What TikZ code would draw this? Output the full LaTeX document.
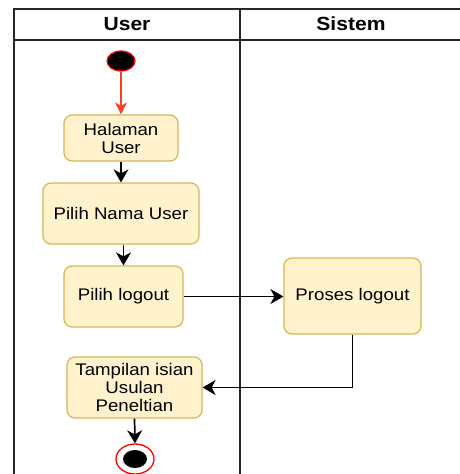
\documentclass[tikz,border=0pt]{standalone}
\usepackage{fontspec}
\setmainfont{Liberation Sans}[FakeStretch=1.11]
\usetikzlibrary{shapes.geometric,arrows.meta}
\definecolor{actfill}{HTML}{FFF2CC}
\definecolor{actline}{HTML}{D6B656}
\definecolor{flowred}{HTML}{FF3D1F}
\tikzset{
  lane/.style={draw=black!85, line width=1.7pt},
  act/.style={draw=actline, fill=actfill, line width=1.2pt, rounded corners=8pt,
    align=center, font=\fontsize{16.8}{18}\selectfont, inner sep=2pt},
  head/.style={font=\fontsize{19}{21}\selectfont\bfseries},
  flow/.style={draw=black, line width=1.7pt, -{Stealth[length=13pt,width=15pt,inset=4pt]}},
  startflow/.style={draw=flowred, line width=1.4pt, -{Stealth[length=12pt,width=12pt,inset=3.5pt]}},
}
\begin{document}
\begin{tikzpicture}[x=1pt,y=-1pt]
\useasboundingbox (0,0) rectangle (460,474);
% swimlane frame
\draw[lane] (14,474) -- (14,9) -- (460,9);
\draw[lane] (14,40) -- (460,40);
\draw[lane] (240,9) -- (240,474);
\node[head] (hUser) at (127,24) {User};
\node[head] (hSistem) at (351,24) {Sistem};
% initial node
\node[ellipse, draw=red, fill=black, line width=1.2pt, minimum width=28pt, minimum height=20pt, inner sep=0pt] (start) at (121,61) {};
% activities
\node[act, minimum width=114pt, minimum height=46pt] (hal) at (121,138) {Halaman\\User};
\node[act, minimum width=156pt, minimum height=61pt] (pnu) at (121,213.5) {Pilih Nama User};
\node[act, minimum width=119pt, minimum height=61pt] (plo) at (123.5,296.5) {Pilih logout};
\node[act, minimum width=137pt, minimum height=76pt] (prl) at (352.5,296) {Proses logout};
\node[act, minimum width=135pt, minimum height=61pt] (tis) at (134.5,387.5) {Tampilan isian\\Usulan\\Peneltian};
% final node
\node[ellipse, draw=red, fill=white, line width=1.3pt, minimum width=38pt, minimum height=30pt, inner sep=0pt] (fin) at (135,459) {};
\node[ellipse, fill=black, minimum width=24pt, minimum height=18pt, inner sep=0pt] (finc) at (fin.center) {};
% flows
\draw[startflow] (start.south) -- (hal.north);
\draw[flow] (hal.south) -- (pnu.north);
\draw[flow] (pnu.south -| plo.north) -- (plo.north);
\draw[flow] (plo.east) -- (plo.east -| prl.west);
\draw[flow] (prl.south) |- (tis.east);
\draw[flow] (tis.south) -- (fin.north);
\end{tikzpicture}
\end{document}
